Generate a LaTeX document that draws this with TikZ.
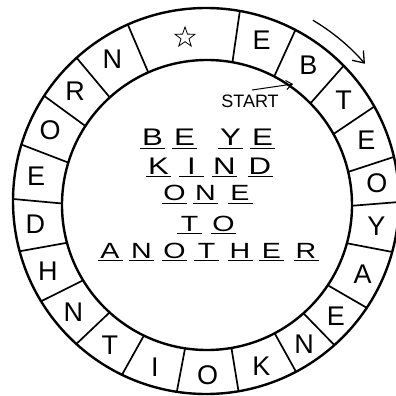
\documentclass[tikz,border=0pt]{standalone}
\usepackage{fontspec}
\usepackage{graphicx}
\setmainfont{Liberation Sans}
\usetikzlibrary{arrows.meta,shapes.geometric,calc}
\begin{document}
\begin{tikzpicture}[x=1pt,y=-1pt,
  ringline/.style={line width=2.4pt},
  divider/.style={line width=1.7pt},
  ringletter/.style={font=\fontsize{27}{27}\selectfont, inner sep=0pt},
  handletter/.style={font=\fontsize{22}{22}\selectfont, inner sep=0pt, anchor=south},
  bigletter/.style={handletter, font=\fontsize{24}{24}\selectfont},
  blank/.style={line width=0.9pt},
  pointer/.style={line width=1pt, -{Straight Barb[length=6pt,width=9pt]}},
  turn/.style={line width=1.3pt, -{Straight Barb[length=10pt,width=15pt]}},
]
\fill[white] (0,0) rectangle (396,396);
\useasboundingbox (0,0) rectangle (396,396);
\coordinate (oc) at (206,201);
\coordinate (ic) at (207,205);
\coordinate (lc) at (206,203);
% ring
\draw[ringline] (oc) circle[radius=193];
\draw[ringline] (ic) circle[radius=145];
\foreach \a in {10.1,27.6,45.5,60.7,76.8,90.3,105.3,123.6,138.3,152.2,170.3,188.7,205.8,222.2,238.7,254.9,270.6,287,303,317.9,336.1}
  \draw[divider] ($(ic)+({\a-90}:145)$) -- ($(oc)+({\a-90}:193)$);
% ring letters
\foreach \a/\t [count=\i] in {18.85/E,36.55/B,53.1/T,68.75/E,83.55/O,97.8/Y,114.45/A,130.95/E,145.25/N,161.25/K,179.5/O,197.25/I,214/T,230.45/N,246.8/H,262.75/D,278.8/E,295/O,310.45/R,327/N}
  \node[ringletter] (r\i) at ($(lc)+({\a-90}:172)$) {\t};
\node[star, star points=5, star point ratio=2.5, draw, line width=0.8pt, minimum size=21pt, inner sep=0pt] (star) at (185,37.5) {};
% start
\node[font=\fontsize{18}{18}\selectfont, inner sep=0pt] (start) at (250,101) {START};
\coordinate (s0) at (252,90);
\coordinate (s1) at (293,84);
\draw[pointer] (s0) -- (s1);
% direction
\coordinate (d0) at ($(oc)+({30.6-90}:210)$);
\draw[turn] (d0) arc[start angle=-59.4, end angle=-40.8, radius=210];
% puzzle words
\foreach \x/\t [count=\i] in {152.5/B,184.5/E,230.5/Y,262.5/E} {
  \draw[blank] (\x-12.5,148) -- (\x+12.5,148);
  \node[bigletter] (wa\i) at (\x,146) {\scalebox{1.3}[1]{\t}};
}
\foreach \x/\t [count=\i] in {158.5/K,191.5/I,224.5/N,260/D} {
  \draw[blank] (\x-12.5,176) -- (\x+12.5,176);
  \node[bigletter] (wb\i) at (\x,175) {\scalebox{1.3}[1]{\t}};
}
\foreach \x/\t [count=\i] in {174.5/O,205.5/N,240/E} {
  \draw[blank] (\x-12.5,203) -- (\x+12.5,203);
  \node[handletter] (wc\i) at (\x,201) {\scalebox{1.3}[1]{\t}};
}
\foreach \x/\t [count=\i] in {189.5/T,223.5/O} {
  \draw[blank] (\x-12.5,233) -- (\x+12.5,233);
  \node[handletter] (wd\i) at (\x,232) {\scalebox{1.3}[1]{\t}};
}
\foreach \x/\t [count=\i] in {110/A,141.5/N,174.5/O,206.5/T,240/H,271.5/E,306/R} {
  \draw[blank] (\x-12.5,260) -- (\x+12.5,260);
  \node[handletter] (we\i) at (\x,259) {\scalebox{1.3}[1]{\t}};
}
\end{tikzpicture}
\end{document}
